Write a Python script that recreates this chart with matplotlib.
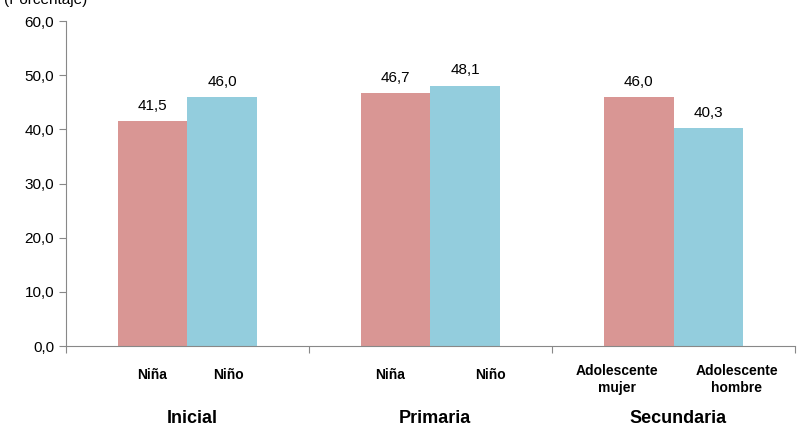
import numpy as np
import matplotlib.pyplot as plt

# Datos:
grupos = ['Inicial', 'Primaria', 'Secundaria']
valores_mujer = [41.5, 46.7, 46.0]
valores_hombre = [46.0, 48.1, 40.3]
etiquetas_mujer = ['Niña', 'Niña', 'Adolescente\nmujer']
etiquetas_hombre = ['Niño', 'Niño', 'Adolescente\nhombre']
# posicion de las etiquetas (como cuadros de texto en el original)
pos_mujer = [-0.146, 0.833, 1.767]
pos_hombre = [0.167, 1.245, 2.261]
y_ticks = [0, 10, 20, 30, 40, 50, 60]

plt.rcParams['font.family'] = ['Liberation Sans', 'DejaVu Sans']
color_mujer = '#D99694'
color_hombre = '#93CDDD'

fig = plt.figure(figsize=(7.97, 4.30), dpi=100)
ax = fig.add_axes([0.0828, 0.1953, 0.9147, 0.7557])

x = np.arange(len(grupos))
w = 0.288
ax.bar(x - w/2, valores_mujer, w, color=color_mujer)
ax.bar(x + w/2, valores_hombre, w, color=color_hombre)
for xi, v in zip(x - w/2, valores_mujer):
    ax.text(xi, v + 1.5, ('%.1f' % v).replace('.', ','), ha='center',
            va='bottom', fontsize=11)
for xi, v in zip(x + w/2, valores_hombre):
    ax.text(xi, v + 1.5, ('%.1f' % v).replace('.', ','), ha='center',
            va='bottom', fontsize=11)

ax.set_xlim(-0.5, 2.5)
ax.set_ylim(0, 60)
ax.set_yticks(y_ticks)
ax.set_yticklabels([('%.1f' % t).replace('.', ',') for t in y_ticks],
                   fontsize=11)
ax.set_xticks([-0.5, 0.5, 1.5, 2.5])
ax.set_xticklabels([])
ax.tick_params(axis='both', direction='out', color='#888888', length=5)
for s in ['top', 'right']:
    ax.spines[s].set_visible(False)
for s in ['left', 'bottom']:
    ax.spines[s].set_color('#888888')

# Etiquetas debajo del eje (las de dos lineas un poco mas abajo):
for px, t in zip(pos_mujer + pos_hombre, etiquetas_mujer + etiquetas_hombre):
    y_txt = -6.2 if '\n' in t else -5.4
    ax.text(px, y_txt, t, ha='center', va='center', fontsize=10,
            fontweight='bold', linespacing=1.2)
for xi, g in zip(x, grupos):
    ax.text(xi + 0.02, -13.3, g, ha='center', va='center', fontsize=13,
            fontweight='bold')

fig.text(0.005, 1.0, '(Porcentaje)', ha='left', va='center', fontsize=11)

fig.savefig('out.png', dpi=100)
